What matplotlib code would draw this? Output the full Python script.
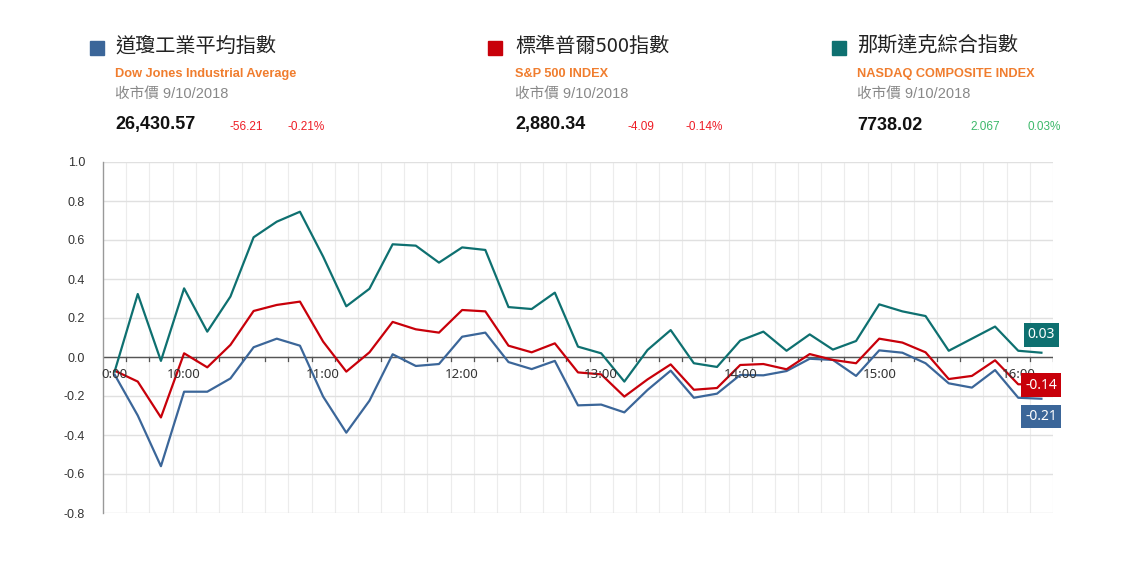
import numpy as np
import matplotlib.pyplot as plt
from matplotlib.patches import Rectangle


# =============================================================================
# Data (percent change, every 10 minutes from 9:30)
# =============================================================================

dow_values = [
    -0.09, -0.30, -0.56, -0.178, -0.178, -0.11, 0.05, 0.094, 0.058, -0.203,
    -0.388, -0.224, 0.014, -0.046, -0.036, 0.104, 0.125, -0.026, -0.062, -0.02,
    -0.248, -0.244, -0.284, -0.169, -0.07, -0.209, -0.188, -0.092, -0.094, -0.072,
    -0.009, -0.015, -0.097, 0.034, 0.022, -0.032, -0.135, -0.157, -0.067, -0.209,
    -0.214,
]

sp500_values = [
    -0.07, -0.126, -0.31, 0.019, -0.053, 0.062, 0.236, 0.267, 0.284, 0.079,
    -0.075, 0.024, 0.18, 0.142, 0.125, 0.241, 0.234, 0.058, 0.024, 0.07,
    -0.079, -0.089, -0.203, -0.115, -0.038, -0.168, -0.159, -0.041, -0.036, -0.063,
    0.015, -0.015, -0.032, 0.094, 0.074, 0.024, -0.113, -0.097, -0.017, -0.14,
    -0.14,
]

nasdaq_values = [
    -0.075, 0.323, -0.02, 0.352, 0.13, 0.31, 0.614, 0.694, 0.745, 0.515,
    0.26, 0.35, 0.578, 0.571, 0.484, 0.562, 0.549, 0.256, 0.246, 0.33,
    0.053, 0.019, -0.126, 0.036, 0.138, -0.032, -0.051, 0.084, 0.13, 0.032,
    0.116, 0.038, 0.082, 0.27, 0.234, 0.21, 0.032, 0.094, 0.156, 0.032,
    0.022,
]

x_tick_positions = [0, 3, 9, 15, 21, 27, 33, 39]
x_tick_labels = ["0:00", "10:00", "11:00", "12:00", "13:00", "14:00", "15:00", "16:00"]

y_ticks = [1.0, 0.8, 0.6, 0.4, 0.2, 0.0, -0.2, -0.4, -0.6, -0.8]

index_names = ["道瓊工業平均指數", "標準普爾500指數", "那斯達克綜合指數"]
index_english = ["Dow Jones Industrial Average", "S&P 500 INDEX", "NASDAQ COMPOSITE INDEX"]
close_label = "收市價 9/10/2018"
close_values = ["26,430.57", "2,880.34", "7738.02"]
point_changes = ["-56.21", "-4.09", "2.067"]
percent_changes = ["-0.21%", "-0.14%", "0.03%"]
end_labels = ["-0.21", "-0.14", "0.03"]


# =============================================================================
# Styling
# =============================================================================

blue = "#3b6699"
red = "#c8000a"
teal = "#0e7070"
orange = "#f07d2e"
green = "#3cb86a"
down_red = "#ee1c25"

series_values = [dow_values, sp500_values, nasdaq_values]
series_colors = [blue, red, teal]

plt.rcParams["font.family"] = ["Liberation Sans", "Noto Sans CJK TC", "DejaVu Sans"]

W, H = 1140, 563
figure = plt.figure(figsize=(W / 100, H / 100), dpi=100)


def fx(x):
    return x / W


def fy(y):
    return 1 - y / H


# --------------------------------------------------
# Header blocks
# --------------------------------------------------

block_x = [90, 488, 832]
title_x = [115, 515, 857]
point_x = [229, 628, 970]
percent_x = [287, 685, 1027]
change_colors = [down_red, down_red, green]

for i in range(3):
    figure.patches.append(Rectangle(
        (fx(block_x[i]), fy(55)), fx(14), 14 / H,
        transform=figure.transFigure, color=series_colors[i]
    ))
    figure.text(fx(title_x[i]), fy(46), index_names[i],
                family=["Noto Sans CJK TC", "Liberation Sans"], fontsize=14.5,
                color="#222222", va="center", ha="left")
    figure.text(fx(title_x[i]), fy(74), index_english[i], fontsize=9.2,
                color=orange, fontweight="bold", va="center", ha="left")
    figure.text(fx(title_x[i]), fy(94), close_label,
                family=["Liberation Sans", "Noto Sans CJK TC"], fontsize=10.5,
                color="#888888", va="center", ha="left")
    figure.text(fx(title_x[i]), fy(125), close_values[i], fontsize=13,
                fontweight="bold", color="#111111", va="center", ha="left")
    figure.text(fx(point_x[i]), fy(127), point_changes[i], fontsize=8.5,
                color=change_colors[i], va="center", ha="left")
    figure.text(fx(percent_x[i]), fy(127), percent_changes[i], fontsize=8.5,
                color=change_colors[i], va="center", ha="left")


# --------------------------------------------------
# Line chart
# --------------------------------------------------

axes = figure.add_axes([fx(103), fy(513), fx(1053 - 103), (513 - 162) / H])

x = np.arange(len(dow_values))
for values, color in zip(series_values, series_colors):
    axes.plot(x, values, color=color, linewidth=1.6, zorder=3)

axes.set_xlim(-0.5, len(dow_values) - 0.5)
axes.set_ylim(-0.8, 1.0)

axes.set_yticks(y_ticks)
axes.set_yticklabels([f"{v:.1f}" for v in y_ticks], fontsize=9, color="#333333")
axes.tick_params(axis="y", length=0, pad=13)

boundaries = np.arange(-0.5, len(dow_values), 1.0)
for b in boundaries[1:]:
    axes.axvline(b, color="#ececec", linewidth=0.8, zorder=0)
for v in y_ticks:
    axes.axhline(v, color="#e0e0e0", linewidth=1.0, zorder=0)

axes.axhline(0, color="#555555", linewidth=1.0, zorder=2)
for b in boundaries[1:]:
    axes.plot([b, b], [0, -0.018], color="#555555", linewidth=0.9, zorder=2)

axes.set_xticks([])
for pos, label in zip(x_tick_positions, x_tick_labels):
    axes.text(pos, -0.09, label, fontsize=9.5, color="#333333",
              family=["Noto Sans", "DejaVu Sans"], ha="center", va="center", zorder=4)

for side in ["top", "right", "bottom"]:
    axes.spines[side].set_visible(False)
axes.spines["left"].set_color("#999999")
axes.spines["left"].set_linewidth(1.0)

# End-of-day value boxes
label_y = [-0.305, -0.144, 0.113]
for text, y_pos, color in zip(end_labels, label_y, series_colors):
    axes.text(len(dow_values) - 1, y_pos, text, color="white", fontsize=10,
              family=["Noto Sans", "DejaVu Sans"], ha="center", va="center",
              zorder=5, clip_on=False,
              bbox=dict(boxstyle="square,pad=0.3", facecolor=color, edgecolor="none"))

plt.savefig("out.png", dpi=100)
